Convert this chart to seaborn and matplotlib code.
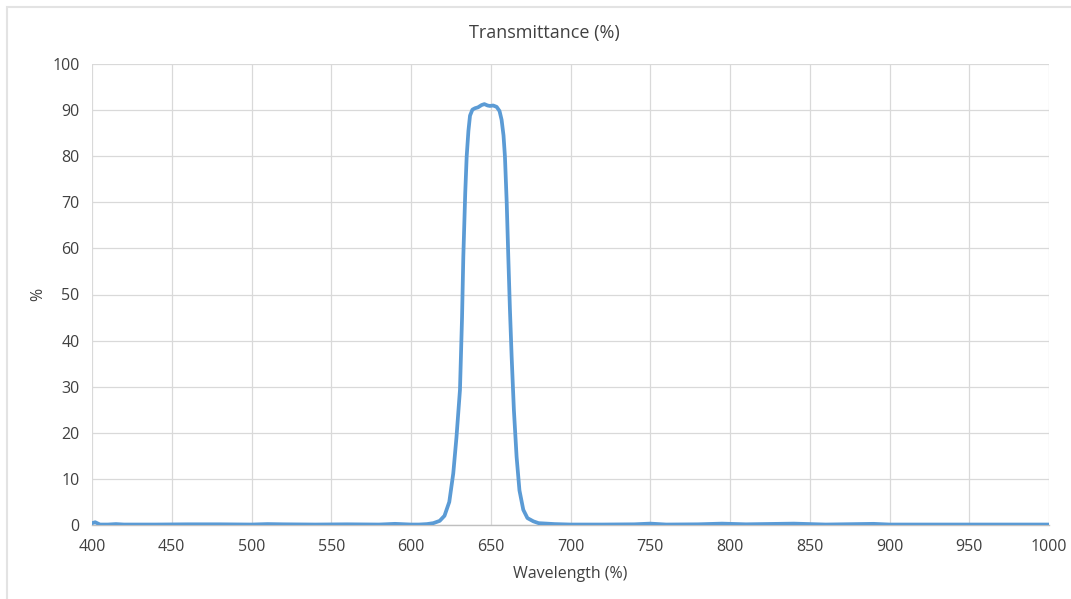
import numpy as np
import pandas as pd
import matplotlib.pyplot as plt
import seaborn as sns
from matplotlib.patches import Rectangle

# Transmittance curve (wavelength nm, %)
wavelength = [400, 402, 405, 410, 415, 420, 440, 460, 480, 500, 510, 520, 540, 560, 580,
              590, 600, 605, 610, 614, 618, 621, 624, 626.5, 628.5, 630.7, 632, 632.8,
              634, 634.9, 636, 637, 638.5, 640.1, 642, 644.3, 646, 648, 649.5, 651.5,
              653.7, 655.5, 656.8, 658, 658.9, 660, 661, 662, 663.1, 664.5, 666.2,
              668, 670.4, 673, 676.7, 680, 690, 700, 720, 740, 750, 760, 780, 795,
              810, 840, 860, 890, 900, 950, 1000]
transmittance = [0.4, 0.6, 0.1, 0.1, 0.2, 0.1, 0.1, 0.15, 0.15, 0.1, 0.2, 0.15, 0.1, 0.15, 0.1,
                 0.25, 0.1, 0.1, 0.2, 0.4, 0.9, 2.0, 5.0, 11.2, 19.0, 29.3, 45.0, 58.2,
                 72.0, 79.9, 85.5, 88.8, 90.1, 90.4, 90.6, 91.1, 91.3, 91.0, 90.9, 91.0,
                 90.7, 89.8, 87.9, 84.5, 79.9, 70.0, 58.2, 47.0, 36.5, 25.0, 14.8,
                 7.5, 3.3, 1.5, 0.8, 0.4, 0.2, 0.1, 0.1, 0.15, 0.3, 0.1, 0.15, 0.3,
                 0.15, 0.3, 0.1, 0.25, 0.1, 0.1, 0.1]

x_ticks = list(range(400, 1001, 50))
y_ticks = list(range(0, 101, 10))

df = pd.DataFrame({'wavelength': wavelength, 'transmittance': transmittance})

sns.set_style('white')
plt.rcParams['font.family'] = ['Open Sans', 'DejaVu Sans']

fig = plt.figure(figsize=(10.71, 5.99), dpi=100)
ax = fig.add_axes([92 / 1071, 1 - 525 / 599, (1049 - 92) / 1071, (525 - 64) / 599])

sns.lineplot(data=df, x='wavelength', y='transmittance', ax=ax,
             color='#5B9BD5', linewidth=2.7, zorder=3)

ax.set_xlim(400, 1000)
ax.set_ylim(0, 100)
ax.set_xticks(x_ticks)
ax.set_yticks(y_ticks)
ax.grid(True, color='#D9D9D9', linewidth=0.9)
for s in ['top', 'right', 'left']:
    ax.spines[s].set_visible(False)
ax.spines['bottom'].set_color('#BFBFBF')
ax.spines['bottom'].set_linewidth(1.0)
ax.tick_params(axis='x', length=0, labelsize=11.5, labelcolor='#404040', pad=10)
ax.tick_params(axis='y', length=0, labelsize=11.5, labelcolor='#404040', pad=9)

# chart title is centred on the whole chart area, not the plot area
fig.text(544 / 1071, 1 - 33 / 599, 'Transmittance (%)', fontsize=13,
         color='#404040', ha='center', va='center')
ax.set_xlabel('Wavelength (%)', fontsize=11.5, color='#404040', labelpad=8)
ax.set_ylabel('%', fontsize=11.5, color='#404040', labelpad=4)

# outer chart border (cropped at right/bottom like the reference)
fig.patches.append(Rectangle((7 / 1071, -0.05), 1.1, 1 - 7 / 599 + 0.05,
                             transform=fig.transFigure, fill=False,
                             edgecolor='#E3E3E3', linewidth=1.5))

fig.savefig('out.png', dpi=100)
